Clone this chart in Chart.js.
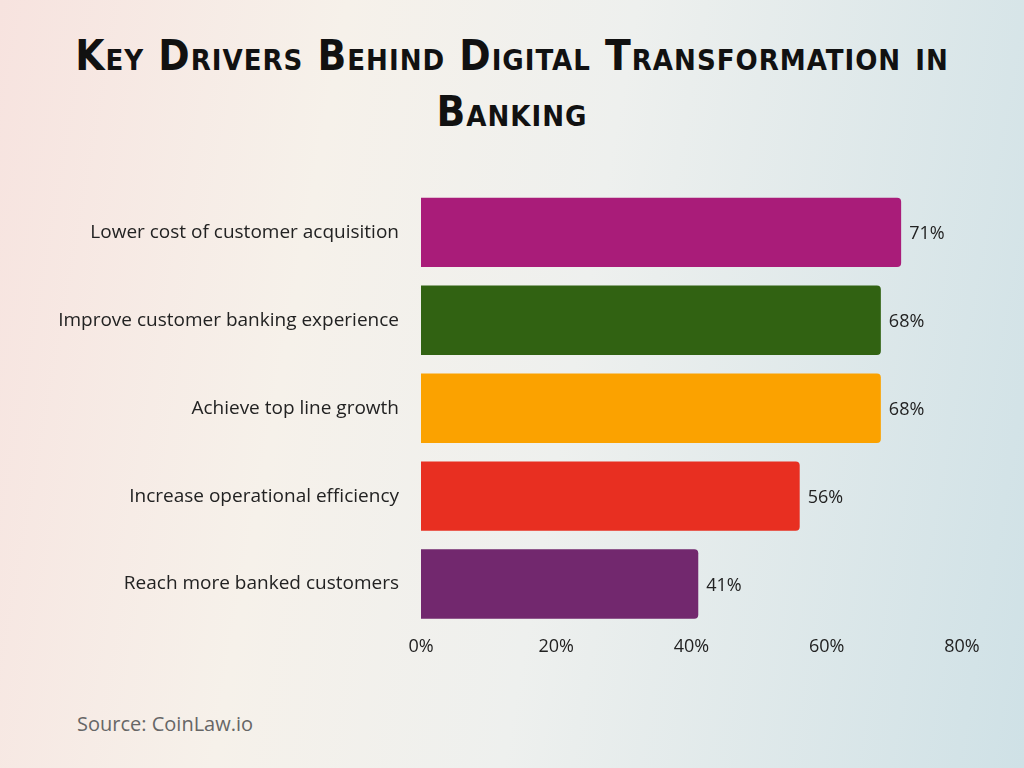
<!DOCTYPE html>
<html><head><meta charset="utf-8">
<script src="https://cdn.jsdelivr.net/npm/chart.js@4/dist/chart.umd.min.js"></script>
<style>
html,body{margin:0;width:1024px;height:768px;overflow:hidden}
body{background:linear-gradient(100deg,#f7e3df 0%,#f6f1ea 30%,#eef0ee 55%,#cfe1e6 100%);position:relative;font-family:"Open Sans",sans-serif}
#title{position:absolute;top:28px;left:0;width:1024px;text-align:center;font-family:"DejaVu Sans Condensed","DejaVu Sans";font-weight:bold;font-variant:small-caps;font-size:42px;line-height:56px;color:#111;letter-spacing:1px}
#wrap{position:absolute;left:0;top:163px;width:1024px;height:495px}
#src{position:absolute;left:77px;top:710px;font-size:20px;color:#666}
</style></head><body>
<div id="title">Key Drivers Behind Digital Transformation in<br>Banking</div>
<div id="wrap"><canvas id="c"></canvas></div>
<div id="src">Source: CoinLaw.io</div>
<script>
const categories=["Lower cost of customer acquisition","Improve customer banking experience","Achieve top line growth","Increase operational efficiency","Reach more banked customers"];
const values=[71,68,68,56,41];
const colors=["#a91c79","#316212","#fba200","#e82f21","#72286e"];
const tickLabels=["0%","20%","40%","60%","80%"];

const valueLabels={id:"valueLabels",afterDatasetsDraw(chart){
  const ctx=chart.ctx;
  chart.getDatasetMeta(0).data.forEach((b,i)=>{
    ctx.save();ctx.font="18px 'Open Sans'";ctx.fillStyle="#222";ctx.textBaseline="middle";
    ctx.fillText(values[i]+"%",b.x+8,b.y+2);ctx.restore();
  });
}};

new Chart(document.getElementById("c"),{
  type:"bar",
  data:{labels:categories,datasets:[{data:values,backgroundColor:colors,borderRadius:4,borderSkipped:"start",categoryPercentage:0.79,barPercentage:1}]},
  options:{indexAxis:"y",responsive:true,maintainAspectRatio:false,animation:false,
    layout:{padding:{right:62,top:0,bottom:0}},
    plugins:{legend:{display:false},tooltip:{enabled:false}},
    scales:{
      x:{min:0,max:80,grid:{display:false},border:{display:false},
        ticks:{stepSize:20,color:"#222",font:{size:18,family:"Open Sans"},padding:0,callback:(v,i)=>tickLabels[i]},
        afterFit(s){s.height=30;}},
      y:{grid:{display:false},border:{display:false},
        ticks:{color:"#222",font:{size:19,family:"Open Sans"},padding:14},
        afterFit(s){s.width=421;}}
    }},
  plugins:[valueLabels]
});
</script>
</body></html>
